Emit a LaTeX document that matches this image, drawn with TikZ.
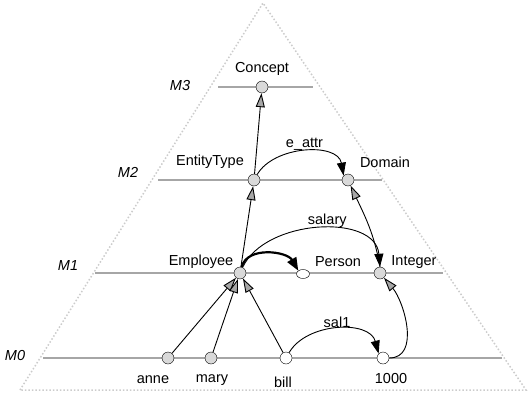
\documentclass[tikz,border=0pt]{standalone}
\usepackage{fontspec}
\setmainfont{Liberation Sans}
\usetikzlibrary{arrows.meta,shapes.geometric}
\tikzset{
  lvl/.style={gray!70,line width=2.5pt},
  obj/.style={circle,draw,fill=gray!30,inner sep=0pt,minimum size=12pt},
  wobj/.style={obj,fill=white},
  inst/.style={-{Triangle[length=14pt,width=9pt,fill=gray!70]},line width=0.9pt},
  attr/.style={-{Triangle[length=13pt,width=9pt]},line width=0.9pt},
  lbl/.style={font=\fontsize{14.5}{16}\selectfont,inner sep=1pt},
  mlbl/.style={font=\fontsize{14.5}{16}\selectfont\itshape,inner sep=1pt}
}
\begin{document}
\begin{tikzpicture}[x=1pt,y=-1pt]
      \useasboundingbox (0,0) rectangle (529,393);
      % pyramid
      \draw[gray!40,line width=1.5pt,dotted] (20,390) -- (263,3) -- (526,390) -- cycle;
      % levels
      \draw[lvl] (218,87) -- (313,87);
      \draw[lvl] (158,180) -- (382,180);
      \draw[lvl] (95,273) -- (443,273);
      \draw[lvl] (43,358) -- (502,358);
      \node[mlbl] (m3) at (180,86) {M3};
      \node[mlbl] (m2) at (128,172) {M2};
      \node[mlbl] (m1) at (68,266) {M1};
      \node[mlbl] (m0) at (15,356) {M0};
      % objects
      \node[obj] (concept) at (262,87) {};
      \node[obj] (entity) at (254,180) {};
      \node[obj] (domain) at (348,180) {};
      \node[obj] (employee) at (240,273) {};
      \node[ellipse,draw,fill=white,inner sep=0pt,minimum width=13pt,minimum height=9pt] (person) at (303,274) {};
      \node[obj] (integer) at (380,273) {};
      \node[obj] (anne) at (168,358) {};
      \node[obj] (mary) at (211,358) {};
      \node[wobj] (bill) at (286,358) {};
      \node[wobj] (thousand) at (383,358) {};
      % labels
      \draw (262,69) node[lbl]{Concept};
      \draw (210,162) node[lbl]{EntityType};
      \draw (385,162) node[lbl]{Domain};
      \draw (201,262) node[lbl]{Employee};
      \draw (338,262) node[lbl]{Person};
      \draw (414,262) node[lbl]{Integer};
      \draw (153,380) node[lbl]{anne};
      \draw (212,380) node[lbl]{mary};
      \draw (283,382) node[lbl]{bill};
      \draw (391,379) node[lbl]{1000};
      % instance-of links
      \draw[inst] (entity) -- (concept);
      \draw[inst] (employee) -- (entity);
      \draw[inst] (anne) -- (employee);
      \draw[inst] (mary) -- (employee);
      \draw[inst] (bill) -- (employee);
      \draw[inst] (integer.north) to[out=100,in=-65] (domain);
      \draw[inst] (thousand.east) to[out=0,in=-50] (integer);
      % attributes
      \draw[attr] (entity) to[out=60,in=100] node[lbl,above]{e\_attr} (domain.north west);
      \draw[attr] (employee) to[out=65,in=95] node[lbl,above,pos=0.55]{salary} (integer.north);
      \draw[attr] (bill) to[out=60,in=105] node[lbl,above]{sal1} (thousand.north west);
      % isA
      \draw[line width=2.2pt,-{Triangle[length=13pt,width=10pt]}] (employee) to[out=75,in=120] (person.north west);
\end{tikzpicture}
\end{document}
